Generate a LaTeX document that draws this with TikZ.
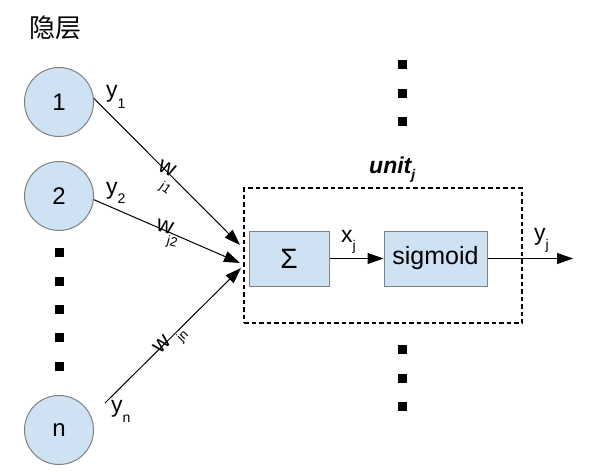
\documentclass[tikz,border=0pt]{standalone}
\usepackage{fontspec}
\setmainfont{Liberation Sans}
\newfontfamily\cjk{Noto Sans CJK SC}
\usetikzlibrary{arrows.meta}
\definecolor{nodefill}{HTML}{CFE2F3}
\definecolor{nodeline}{HTML}{808080}
\newcommand{\fs}[1]{\fontsize{#1}{#1}\selectfont}
\begin{document}
\begin{tikzpicture}[x=1pt,y=-1pt,
  neuron/.style={circle, draw=nodeline, fill=nodefill, line width=1pt, minimum size=69pt, inner sep=0pt, font=\fs{24}},
  blockbox/.style={rectangle, draw=nodeline, fill=nodefill, line width=1pt, inner sep=0pt, minimum height=55pt},
  dotsq/.style={rectangle, fill=black, minimum size=9pt, inner sep=0pt},
  lbl/.style={inner sep=0pt, font=\fs{23}},
  sublbl/.style={inner sep=0pt, font=\fs{13}},
  wire/.style={line width=1pt, -{Triangle[length=16pt,width=11pt]}},
  unitbox/.style={draw=black, line width=2.2pt, dash pattern=on 4.5pt off 3pt, minimum width=278pt, minimum height=135pt, inner sep=0pt}
]
\useasboundingbox (0,0) rectangle (598,474);
\fill[white] (0,0) rectangle (598,474);

\node[font=\cjk\fs{26}, inner sep=0pt] (title) at (56,28) {隐层};

\node[neuron] (c1) at (59,102) {1};
\node[neuron] (c2) at (59,196) {2};
\node[neuron] (cn) at (59,430) {n};

\foreach \yy [count=\i] in {252,281,309,337,366} \node[dotsq] (ld\i) at (59,\yy) {};
\foreach \yy [count=\i] in {64,93,121} \node[dotsq] (td\i) at (402,\yy) {};
\foreach \yy [count=\i] in {349,378,406} \node[dotsq] (bd\i) at (402,\yy) {};

\node[unitbox] (unit) at (383,255.5) {};
\node[blockbox, minimum width=80pt] (sum) at (289,258.5) {\fs{28}Σ};
\node[blockbox, minimum width=103pt] (sig) at (435.5,258.5) {\fs{25}sigmoid};

\coordinate (sn) at (105,403);
\coordinate (in1) at (240,245);
\coordinate (in2) at (240,263);
\coordinate (in3) at (241,268);
\coordinate (out) at (573,258.5);

\draw[wire] (c1.6) -- (in1);
\draw[wire] (c2.-6) -- (in2);
\draw[wire] (sn) -- (in3);
\draw[wire] (sum.east) -- (sig.west);
\draw[wire] (sig.east) -- (out);

\node[lbl, anchor=base west] (y1) at (106,97) {y\raisebox{-11pt}{\fs{14}1}};
\node[lbl, anchor=base west] (y2) at (106,194) {y\raisebox{-9pt}{\fs{14}2}};
\node[lbl, anchor=base west] (yn) at (111,412) {y\raisebox{-10pt}{\fs{14}n}};
\node[lbl, anchor=base west] (xj) at (341,242) {x\raisebox{-8pt}{\fs{14}j}};
\node[lbl, anchor=base west] (yj) at (534,240) {y\raisebox{-9pt}{\fs{14}j}};
\node[inner sep=0pt, anchor=base west, font=\fs{23}\bfseries\itshape] (unitlbl) at (369,173) {unit\raisebox{-6pt}{\fs{14}j}};

\node[lbl, rotate=-25] (w1) at (167,169) {w};
\node[sublbl, rotate=-35] (w1s) at (165,189) {j1};
\node[lbl, rotate=-15] (w2) at (165,227) {w};
\node[sublbl, rotate=-15] (w2s) at (172,243) {j2};
\node[lbl, rotate=45] (wn) at (162,344) {w};
\node[sublbl, rotate=45] (wns) at (183,337) {jn};
\end{tikzpicture}
\end{document}
